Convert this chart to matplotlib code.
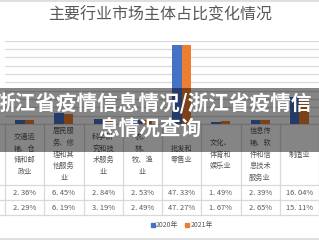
import matplotlib
matplotlib.use("Agg")
import matplotlib.pyplot as plt
from matplotlib.patches import Rectangle, Patch
from matplotlib.lines import Line2D
import matplotlib.transforms as mtransforms

plt.rcParams['font.family'] = ['Noto Sans CJK SC', 'DejaVu Sans']

# ---- data ----
title = "主要行业市场主体占比变化情况"
categories = ["交通运输、仓储和邮政业", "居民服务、修理和其他服务业", "科学研究和技术服务业",
              "农、林、牧、渔业", "批发和零售业", "文化、体育和娱乐业",
              "信息传输、软件和信息技术服务业", "制造业"]
header_lines = [["交通运", "输、仓", "储和邮", "政业"],
                ["居民服", "务、修", "理和其", "他服务", "业"],
                ["科学研", "究和技", "术服务", "业"],
                ["农、", "林、", "牧、渔", "业"],
                ["批发和", "零售业"],
                ["文化、", "体育和", "娱乐业"],
                ["信息传", "输、软", "件和信", "息技术", "服务业"],
                ["制造业"]]
series_names = ["2020年", "2021年"]
values_2020 = [2.36, 6.45, 2.84, 2.53, 47.33, 1.49, 2.39, 16.04]
values_2021 = [2.29, 6.19, 3.19, 2.49, 47.27, 1.67, 2.65, 15.11]
y_ticks = [0, 5, 10, 15, 20, 25, 30, 35, 40, 45, 50]
overlay_lines = ["浙江省疫情信息情况/浙江省疫情信", "息情况查询"]

blue = "#4472C4"
orange = "#ED7D31"
grid_c = "#D9D9D9"
text_c = "#595959"

W, H = 319, 240
fig = plt.figure(figsize=(W / 100, H / 100), dpi=100)
fig.patch.set_facecolor("white")

ax_top_px, ax_bot_px = 40.7, 124.0
ax = fig.add_axes([5 / W, (H - ax_bot_px) / H, 314 / W, (ax_bot_px - ax_top_px) / H])
ax.set_xlim(-0.5, len(categories) - 0.5)
ax.set_ylim(0, 50)
ax.set_yticks(y_ticks)
ax.yaxis.grid(True, color=grid_c, linewidth=0.9)
ax.set_axisbelow(True)
for s in ax.spines.values():
    s.set_visible(False)
ax.tick_params(left=False, bottom=False, labelleft=False, labelbottom=False)

x = list(range(len(categories)))
bw = 0.24
ax.bar([i - bw / 2 for i in x], values_2020, width=bw, color=blue, zorder=3)
ax.bar([i + bw / 2 for i in x], values_2021, width=bw, color=orange, zorder=3)

def py(ypx):
    return (ax_bot_px - ypx) / (ax_bot_px - ax_top_px)

trans = mtransforms.blended_transform_factory(ax.transData, ax.transAxes)
# table lines
x_left_data = -0.5 - 5 / 39.25
for ypx in [124, 185, 200, 215]:
    ax.plot([x_left_data, len(categories) - 0.5], [py(ypx)] * 2, transform=trans,
            color=grid_c, linewidth=0.9, clip_on=False)
for k in range(len(categories) + 1):
    ax.plot([k - 0.5] * 2, [py(124), py(215)], transform=trans,
            color=grid_c, linewidth=0.9, clip_on=False)

# header text
for i, lines in enumerate(header_lines):
    n = len(lines)
    sp = 11.6
    c = 154.5
    for j, ln in enumerate(lines):
        ypx = c + (j - (n - 1) / 2) * sp
        ax.text(i, py(ypx), ln, transform=trans, ha="center", va="center",
                fontsize=5.2, color=text_c, clip_on=False)

def fmt(v):
    s = f"{v:.2f}%"
    return s.replace(".", ". ")

for i in x:
    ax.text(i, py(193), fmt(values_2020[i]), transform=trans, ha="center", va="center",
            fontsize=5.4, color=text_c, clip_on=False)
    ax.text(i, py(208), fmt(values_2021[i]), transform=trans, ha="center", va="center",
            fontsize=5.4, color=text_c, clip_on=False)

# title
fig.text(160 / W, 1 - 15 / H, title, ha="center", va="center", fontsize=11.5, color=text_c)

# legend
handles = [Patch(color=blue), Patch(color=orange)]
fig.legend(handles, series_names, loc="center", bbox_to_anchor=(182 / W, 1 - 225 / H),
           ncol=2, frameon=False, fontsize=5, handlelength=0.5, handleheight=0.5,
           handletextpad=0.2, columnspacing=1.0, labelcolor=text_c)

# border lines
fig.add_artist(Line2D([0, 1], [1 - 1 / H] * 2, color=grid_c, linewidth=1.2))
fig.add_artist(Line2D([0, 1], [1 - 239 / H] * 2, color=grid_c, linewidth=1.2))

# overlay banner
fig.add_artist(Rectangle((0, 1 - 152 / H), 1, 64 / H, transform=fig.transFigure,
                         facecolor="black", alpha=0.48, edgecolor="none", zorder=5))
fig.text(153 / W, 1 - 104 / H, overlay_lines[0], ha="center", va="center",
         fontsize=14.9, fontweight="bold", color="white", zorder=6)
fig.text(150 / W, 1 - 129.5 / H, overlay_lines[1], ha="center", va="center",
         fontsize=14.9, fontweight="bold", color="white", zorder=6)

fig.savefig("out.png", dpi=100)
